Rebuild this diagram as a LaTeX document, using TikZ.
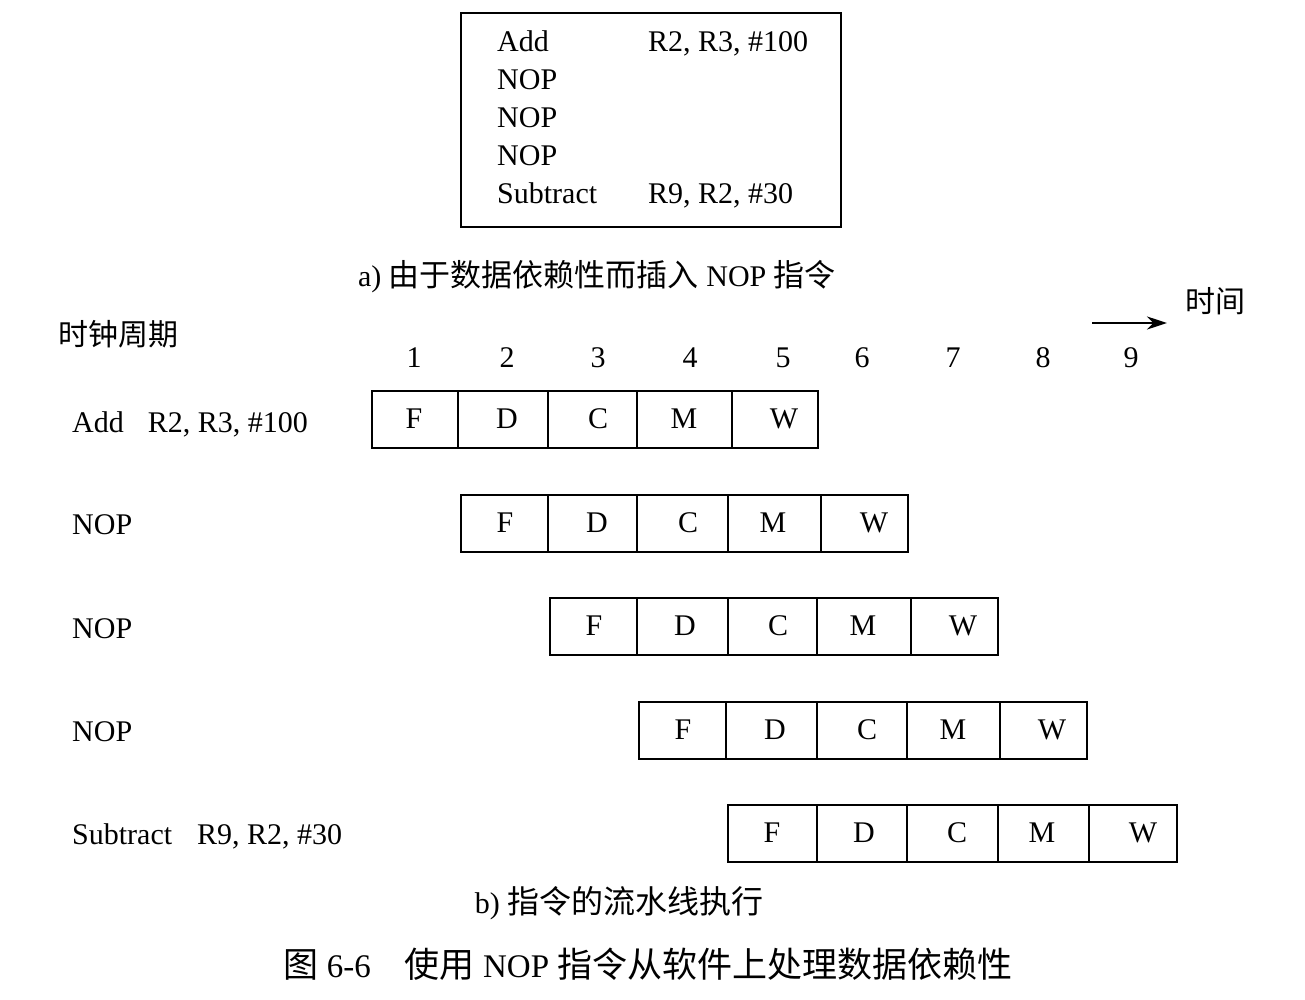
\documentclass[tikz,border=0pt]{standalone}
\usepackage{fontspec}
\setmainfont{Liberation Serif}
\newfontfamily\cjk{Noto Sans CJK SC}
\usetikzlibrary{arrows.meta}
\begin{document}
\begin{tikzpicture}[x=1pt,y=-1pt,
  lat/.style={font=\fontsize{30}{30}\selectfont, inner sep=0pt, text height=20pt, text depth=0pt},
  cjkt/.style={font=\fontsize{30}{30}\selectfont\cjk, inner sep=0pt, text height=20pt, text depth=0pt},
  captxt/.style={font=\fontsize{30}{30}\selectfont, inner sep=0pt, text height=20pt, text depth=0pt},
  cell/.style={draw, line width=2pt, minimum height=57pt, inner sep=0pt},
  frame/.style={draw, line width=2.2pt}]
\useasboundingbox (0,0) rectangle (1305,1000);
% (a) code box
\node[frame, minimum width=380pt, minimum height=214pt, inner sep=0pt, anchor=north west] (box) at (460,12) {};
\node[lat, anchor=west] (ba1) at (497,42) {Add};
\node[lat, anchor=west] (bb1) at (648,42) {R2, R3, \#100};
\node[lat, anchor=west] (ba2) at (497,80) {NOP};
\node[lat, anchor=west] (ba3) at (497,118) {NOP};
\node[lat, anchor=west] (ba4) at (497,156) {NOP};
\node[lat, anchor=west] (ba5) at (497,194) {Subtract};
\node[lat, anchor=west] (bb5) at (648,194) {R9, R2, \#30};
\node[captxt] (capa) at (597,276) {a) {\cjk\fontsize{31}{31}\selectfont 由于数据依赖性而插入} NOP {\cjk\fontsize{31}{31}\selectfont 指令}};
% (b) pipeline
\node[cjkt, anchor=west] (clk) at (58,335) {时钟周期};
\node[cjkt, anchor=west] (tm) at (1185,302) {时间};
\coordinate (ts) at (1092,323);
\coordinate (te) at (1167,323);
\draw[-{Stealth[length=20pt,width=13pt]}, line width=2.6pt] (ts) -- (te);
\foreach \n/\x in {1/414,2/507,3/598,4/690,5/783,6/862,7/953,8/1043,9/1131}
  \node[lat] (n\n) at (\x,357) {\n};
\node[lat, anchor=west] (l0) at (72,422) {Add\hspace{24pt}R2, R3, \#100};
\node[lat, anchor=west] (l1) at (72,524) {NOP};
\node[lat, anchor=west] (l2) at (72,628) {NOP};
\node[lat, anchor=west] (l3) at (72,731) {NOP};
\node[lat, anchor=west] (l4) at (72,834) {Subtract\hspace{25pt}R9, R2, \#30};
% cells: row / top / boundaries b0..b5 / letter x positions
\foreach \r/\t/\ba/\bb/\bc/\bd/\be/\bf/\xa/\xb/\xc/\xd/\xe in {
  0/390/371/457/547/636/731/817/414/507/598/684/784,
  1/494/460/547/636/727/820/907/505/597/688/773/874,
  2/597/549/636/727/816/910/997/594/685/778/863/963,
  3/701/638/725/816/906/999/1086/683/775/867/953/1052,
  4/804/727/816/906/997/1088/1176/772/864/957/1042/1143}{
  \node[cell, minimum width={\bb-\ba}, anchor=north west] (c\r0) at (\ba,\t) {};
  \node[cell, minimum width={\bc-\bb}, anchor=north west] (c\r1) at (\bb,\t) {};
  \node[cell, minimum width={\bd-\bc}, anchor=north west] (c\r2) at (\bc,\t) {};
  \node[cell, minimum width={\be-\bd}, anchor=north west] (c\r3) at (\bd,\t) {};
  \node[cell, minimum width={\bf-\be}, anchor=north west] (c\r4) at (\be,\t) {};
  \node[lat] (f\r) at (\xa,\t+28.5) {F};
  \node[lat] (d\r) at (\xb,\t+28.5) {D};
  \node[lat] (k\r) at (\xc,\t+28.5) {C};
  \node[lat] (m\r) at (\xd,\t+28.5) {M};
  \node[lat] (w\r) at (\xe,\t+28.5) {W};
}
\node[captxt] (capb) at (619,903) {b) {\cjk\fontsize{32}{32}\selectfont 指令的流水线执行}};
\node[captxt, font=\fontsize{33}{33}\selectfont] (capf) at (648,967) {{\cjk\fontsize{35}{35}\selectfont 图} 6-6\hspace{34pt}{\cjk\fontsize{35}{35}\selectfont 使用} NOP {\cjk\fontsize{35}{35}\selectfont 指令从软件上处理数据依赖性}};
\end{tikzpicture}
\end{document}
